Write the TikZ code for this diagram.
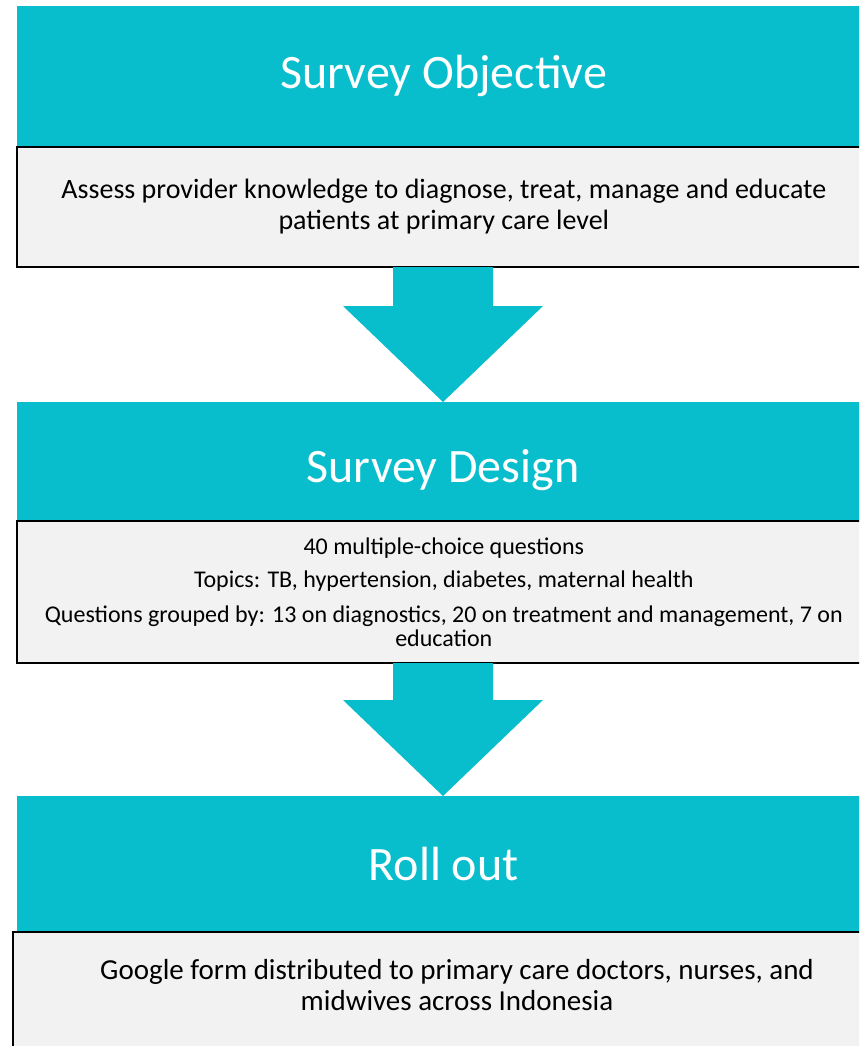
\documentclass[tikz,border=0pt]{standalone}
\usepackage{fontspec}
\setmainfont{Carlito}
\usetikzlibrary{calc}
\definecolor{teal1}{RGB}{9,190,204}
\definecolor{grey1}{RGB}{242,242,242}
\begin{document}
\begin{tikzpicture}[x=1pt,y=-1pt,
  header/.style={fill=teal1,draw=none,inner sep=0pt,anchor=north west,text=white,font=\fontsize{48}{56}\selectfont},
  body/.style={fill=grey1,draw=black,line width=1.6pt,inner sep=0pt,anchor=north west,align=center},
  flowarrow/.style={fill=teal1,draw=none}]
\useasboundingbox (0,0) rectangle (859,1046);
\clip (0,0) rectangle (859,1046);
\fill[white] (0,0) rectangle (859,1046);
% boxes
\node[header,minimum width=853pt,minimum height=140pt] (t1) at (17,6) {Survey Objective};
\node[body,minimum width=854pt,minimum height=120pt,font=\fontsize{28}{31}\selectfont] (g1) at (16,146) {Assess provider knowledge to diagnose, treat, manage and educate\\patients at primary care level};
\node[header,minimum width=853pt,minimum height=118pt,text depth=-20pt] (t2) at (17,402) {};
\node[text=white,font=\fontsize{48}{56}\selectfont,inner sep=0pt] (t2text) at (443,470) {Survey Design};
\node[body,minimum width=854pt,minimum height=142pt,font=\fontsize{24}{24}\selectfont] (g2) at (16,520) {40 multiple-choice questions\\[9pt]Topics: TB, hypertension, diabetes, maternal health\\[11pt]Questions grouped by: 13 on diagnostics, 20 on treatment and management, 7 on\\education};
\node[header,minimum width=853pt,minimum height=135pt] (t3) at (17,796) {Roll out};
\node[body,minimum width=890pt,minimum height=140pt] (g3) at (12,931) {};
\node[font=\fontsize{29}{31}\selectfont,align=center,inner sep=0pt] (g3text) at (457,985) {Google form distributed to primary care doctors, nurses, and\\midwives across Indonesia};
% arrows
\coordinate (a1top) at (443,266);
\coordinate (a1tip) at (t2.north -| a1top);
\fill[flowarrow] ($(a1top)+(-50,1)$) -- ($(a1top)+(50,1)$) -- ($(a1top)+(50,40)$) -- ($(a1top)+(100,40)$) -- (a1tip) -- ($(a1top)+(-100,40)$) -- ($(a1top)+(-50,40)$) -- cycle;
\coordinate (a2top) at (443,662);
\coordinate (a2tip) at (t3.north -| a2top);
\fill[flowarrow] ($(a2top)+(-50,1)$) -- ($(a2top)+(50,1)$) -- ($(a2top)+(50,38)$) -- ($(a2top)+(100,38)$) -- (a2tip) -- ($(a2top)+(-100,38)$) -- ($(a2top)+(-50,38)$) -- cycle;
\end{tikzpicture}
\end{document}
